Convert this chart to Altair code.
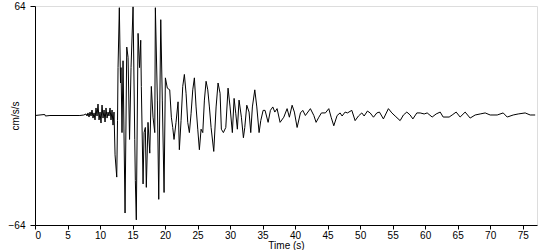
import altair as alt
import pandas as pd

times = [
    0.0, 1.5, 1.6, 2.3, 6.9, 7.5, 7.85, 8.0, 8.15, 8.31, 8.46, 8.62, 8.77, 8.92, 9.08,
    9.23, 9.38, 9.54, 9.69, 9.85, 10.0, 10.15, 10.31, 10.46, 10.62, 10.77, 10.92,
    11.08, 11.23, 11.38, 11.54, 11.69, 11.85, 12.0, 12.15,
    12.31, 12.57, 12.69, 12.77, 12.97, 13.15, 13.23, 13.38, 13.54, 13.85, 14.11,
    14.31, 14.54, 14.77, 15.08, 15.34, 15.43, 15.58, 15.85, 16.08, 16.26, 16.35,
    16.62, 16.77, 16.97, 17.12, 17.38, 17.65, 17.89, 18.15, 18.42, 18.51, 18.82,
    19.03, 19.34, 19.58, 19.85, 20.05, 20.35, 20.72, 20.97, 21.18, 21.38, 21.69,
    22.0, 22.2, 22.46, 22.72, 22.97, 23.23, 23.49, 23.74, 24.0, 24.26, 24.51,
    24.77, 25.03, 25.28, 25.54, 25.8, 26.05, 26.31, 26.57, 26.82, 27.08, 27.49,
    27.85, 28.15, 28.46, 28.66, 28.97, 29.34, 29.69, 30.0, 30.35, 30.62, 30.88,
    31.12, 31.38, 31.74, 32.05, 32.26, 32.57, 32.92, 33.18, 33.43, 33.8, 34.11,
    34.46, 34.72, 35.08, 35.38, 35.85, 36.2, 36.57, 36.88, 37.23, 37.69, 38.26,
    38.77, 39.12, 39.54, 39.89, 40.31, 40.82, 41.18, 41.58, 42.35, 42.88, 43.23,
    43.65, 44.05, 44.66, 45.18, 45.54, 45.95, 46.46, 46.92, 47.23, 47.69, 48.05,
    48.72, 49.23, 49.74, 50.26, 50.62, 51.12, 51.54, 52.05, 52.57, 52.97, 53.58,
    54.35, 54.88, 55.38, 56.15, 56.66, 57.18, 57.69, 58.11, 58.72, 59.23, 59.85,
    60.31, 61.08, 61.69, 62.31, 62.77, 63.69, 64.15, 64.77, 65.38, 66.15, 66.92,
    67.69, 68.46, 69.23, 70.0, 71.08, 72.0, 72.62, 73.54, 74.31, 75.38, 76.15, 76.92,
]

accel = [
    0.0, 0.6, -0.3, 0.0, 0.0, 0.3, 0.9, -0.3, 1.5, -0.9, 2.0, -0.3, 3.2, -1.5, 1.5,
    -2.6, 4.4, -0.3, 6.7, -2.6, 2.0, -4.4, 6.1, -1.5, 3.2, -3.8, 4.4,
    -1.5, 2.0, -0.3, 4.4, -2.6, 3.2, -5.6, 2.0,
    -23, -36, -3, 28, 63, 19, 28, -10, 32, -57, 40,
    34, -14, 28, 63.5, -14, -38, -61, 48, 28, 44, 17,
    -40, -10, -7, -42, -4, -22, 17, -1, -10, 63, 9,
    -49, 56, 9, -45, 22, 16, 15, -1, -7, -14, -4,
    8, -20, -3, 17, 24, 13, -4, -10, 1, 15, 22,
    5, -8, -20, -8, -10, 9, 20, 15, 5, -7, -21,
    5, 19, 13, -8, -10, -7, 16, 5, -10, 10, 1,
    -8, 9, -1, -13, -7, 6, 2, -10, 5, 15, 5,
    -10, -3, 3, 3, -4, 3, 5, 2, 4, -4, -1,
    4, -1, 6, 2, -7, 1.5, 3, 0, 4, 0, -4,
    -1, 1.5, 1.5, 4, -1, -6, 0, 1.5, -0.3, 2, 1.5,
    3, -3, -0.3, 1.5, -0.3, 2.6, 1.5, -1, 1.5, 2, -2,
    4, 1.5, -0.3, -3, 0.3, 2, 0.3, -2, 1.5, 1.5, 0.9,
    1.5, -0.9, 0.9, 2, -0.9, -0.9, 0.3, 2, -0.9, 2, -1.5,
    0.3, 0.9, 1.5, 0.3, 0.3, 1.5, -0.9, 0.3, 0.9, 1.5, 0.3, 0.3,
]

x_ticks = [0, 5, 10, 15, 20, 25, 30, 35, 40, 45, 50, 55, 60, 65, 70, 75]
y_ticks = [-64, 64]

df = pd.DataFrame({"t": times, "a": accel})

font = "Liberation Sans"

chart = alt.Chart(df).mark_line(color="black", strokeWidth=1).encode(
    x=alt.X(
        "t:Q",
        scale=alt.Scale(domain=[0, 77.2], nice=False, zero=False),
        axis=alt.Axis(
            values=x_ticks, title="Time (s)", grid=False, tickSize=4,
            labelPadding=1, titlePadding=0, labelFontSize=10, titleFontSize=10,
            titleFontWeight="normal", labelFont=font, titleFont=font,
            domainColor="black", tickColor="black", labelColor="black",
            titleColor="black",
        ),
    ),
    y=alt.Y(
        "a:Q",
        scale=alt.Scale(domain=[-64, 64], nice=False),
        axis=alt.Axis(
            values=y_ticks, title="cm/s/s", grid=False, tickSize=5,
            labelPadding=5, labelFontSize=10, titleFontSize=10,
            titleFontWeight="normal", labelFont=font, titleFont=font,
            titleX=-20, titleY=109.5, titleAngle=270, titleAlign="center",
            titleBaseline="middle",
            domainColor="black", tickColor="black", labelColor="black",
            titleColor="black",
        ),
    ),
).properties(
    width=502,
    height=219,
    autosize=alt.AutoSizeParams(type="none"),
    padding={"left": 35, "top": 6, "right": 13, "bottom": 25},
).configure_view(stroke=None).configure(background="white")

chart.save("out.html", embed_options={"renderer": "svg", "actions": False})
